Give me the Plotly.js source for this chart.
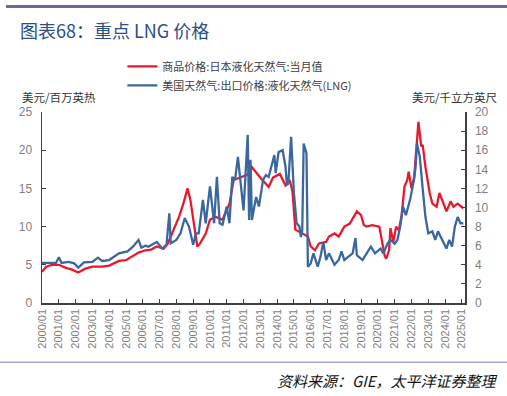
<!DOCTYPE html>
<html>
<head>
<meta charset="utf-8">
<script src="https://cdn.plot.ly/plotly-3.0.1.min.js"></script>
<style>html,body{margin:0;padding:0;background:#fff;}#chart{width:507px;height:396px;}</style>
</head>
<body>
<div id="chart"></div>
<script>
// 商品价格:日本液化天然气:当月值 (美元/百万英热)
const redDates = ['2000-01','2000-04','2000-08','2001-01','2001-06','2001-10','2002-03','2002-08','2003-01','2003-08','2004-01','2004-08','2005-01','2005-06','2005-10','2006-03','2006-07','2006-11','2007-04','2007-07','2007-11','2008-03','2008-06','2008-09','2008-11','2009-02','2009-04','2009-06','2009-10','2010-01','2010-05','2010-10','2011-03','2011-06','2011-11','2012-04','2012-07','2013-01','2013-07','2013-10','2014-03','2014-07','2014-10','2014-12','2015-02','2015-05','2015-08','2015-11','2016-01','2016-04','2016-07','2016-12','2017-02','2017-06','2017-09','2018-01','2018-05','2018-07','2018-10','2019-01','2019-03','2019-05','2019-09','2020-02','2020-04','2020-06','2020-07','2020-09','2020-10','2020-12','2021-02','2021-04','2021-06','2021-08','2021-10','2021-11','2022-01','2022-03','2022-05','2022-06','2022-08','2022-09','2022-11','2023-02','2023-04','2023-07','2023-09','2023-12','2024-02','2024-05','2024-07','2024-10','2025-02'];
const redValues = [4.1,4.75,5.0,5.0,4.6,4.4,4.0,4.5,4.75,4.75,4.9,5.5,5.6,6.1,6.6,6.9,7.0,7.4,7.1,7.8,9.6,11.3,13.0,15.0,13.5,9.6,7.4,7.8,9.1,10.9,11.3,10.9,13.0,16.1,16.5,16.8,17.8,16.4,15.2,16.4,16.9,15.4,16.1,14.6,9.6,9.3,9.1,8.7,7.4,6.9,7.8,8.0,8.7,9.1,8.7,10.0,10.4,11.1,12.0,11.5,10.2,10.0,10.2,10.0,8.2,6.1,5.8,6.9,9.8,8.0,10.0,9.5,11.5,15.2,16.1,17.2,15.0,16.5,21.3,23.7,20.5,20.7,17.8,14.4,13.0,12.6,14.4,13.0,12.0,13.3,12.6,13.0,12.4];

// 美国天然气:出口价格:液化天然气(LNG) (美元/千立方英尺)
const blueDates = ['2000-01','2000-11','2001-01','2001-03','2001-08','2001-12','2002-03','2002-07','2003-01','2003-05','2003-08','2004-01','2004-08','2005-02','2005-06','2005-10','2005-12','2006-03','2006-05','2006-09','2006-11','2007-03','2007-06','2007-08','2007-09','2008-01','2008-04','2008-07','2008-10','2009-01','2009-03','2009-05','2009-08','2009-10','2010-01','2010-04','2010-06','2010-08','2010-10','2011-01','2011-03','2011-05','2011-07','2011-09','2011-11','2012-01','2012-04','2012-05','2012-06','2012-07','2012-10','2012-12','2013-03','2013-05','2013-07','2013-11','2013-12','2014-02','2014-05','2014-07','2014-08','2014-09','2014-11','2015-01','2015-03','2015-05','2015-06','2015-07','2015-08','2015-10','2015-11','2016-01','2016-03','2016-06','2016-08','2016-10','2016-12','2017-02','2017-06','2017-09','2017-11','2018-01','2018-04','2018-07','2018-09','2018-10','2019-02','2019-05','2019-08','2019-11','2020-03','2020-05','2020-08','2020-10','2021-01','2021-03','2021-05','2021-07','2021-09','2021-12','2022-03','2022-04','2022-05','2022-07','2022-08','2022-09','2022-11','2023-01','2023-04','2023-06','2023-08','2023-11','2024-02','2024-04','2024-06','2024-08','2024-10','2024-12','2025-02'];
const blueValues = [4.2,4.2,4.8,4.2,4.3,4.15,3.7,4.25,4.3,4.75,4.4,4.5,5.2,5.4,5.9,6.6,5.8,6.0,5.9,6.25,6.4,5.7,6.1,9.4,6.25,6.6,7.3,8.9,8.0,6.1,7.3,7.3,10.8,8.35,12.2,8.35,13.2,8.35,8.2,10.1,8.35,13.2,12.9,15.3,12.2,9.7,17.6,8.7,15.0,8.7,11.1,10.1,12.9,13.4,13.2,15.5,13.6,15.8,16.0,14.3,12.4,12.5,17.4,11.5,8.35,8.0,6.9,7.6,16.7,15.7,3.8,4.15,5.2,3.8,4.85,6.4,4.5,5.2,4.0,4.5,5.4,4.5,4.85,5.2,6.8,5.0,4.5,5.2,5.9,5.2,5.7,5.2,6.25,6.6,6.2,6.6,8.0,10.1,9.2,10.8,13.0,14.3,16.7,15.3,13.2,12.0,9.0,7.3,7.5,6.6,7.5,6.6,5.7,6.6,5.9,8.0,9.0,8.35,8.35];

const seriesNames = ['商品价格:日本液化天然气:当月值','美国天然气:出口价格:液化天然气(LNG)'];
const titleText = '图表68：重点 LNG 价格';
const leftUnit = '美元/百万英热';
const rightUnit = '美元/千立方英尺';
const sourceText = '资料来源：GIE，太平洋证券整理';

const tickFont = {family:'Liberation Sans, Arial, sans-serif', size:12, color:'#7f7f7f'};
const cjk = 'Noto Sans CJK SC, sans-serif';

const traces = [
  {x: redDates.map(d=>d+'-01'), y: redValues, name: seriesNames[0], type:'scatter', mode:'lines',
   line:{color:'#e8192c', width:2.3}, yaxis:'y'},
  {x: blueDates.map(d=>d+'-01'), y: blueValues, name: seriesNames[1], type:'scatter', mode:'lines',
   line:{color:'#3b67a0', width:2.3}, yaxis:'y2'}
];

const layout = {
  width:507, height:396,
  margin:{l:42, r:42, t:112, b:93},
  paper_bgcolor:'#fff', plot_bgcolor:'#fff',
  showlegend:true,
  legend:{x:0.19, y:1.315, xanchor:'left', yanchor:'top', bgcolor:'rgba(0,0,0,0)',
          font:{family:cjk, size:11, color:'#404040'}, tracegroupgap:0, itemwidth:30},
  xaxis:{type:'date', range:['2000-01-01','2025-03-10'], tickformat:'%Y/%m', dtick:'M12', tick0:'2000-01-01',
         tickangle:-90, tickfont:{family:'Liberation Sans, Arial, sans-serif', size:11, color:'#7f7f7f'},
         showline:true, linecolor:'#404040', linewidth:1.5, ticks:'inside', ticklen:4, tickcolor:'#404040',
         showgrid:false, zeroline:false, fixedrange:true},
  yaxis:{range:[0,25], dtick:5, tickfont:tickFont, showline:true, linecolor:'#404040', linewidth:1.5,
         ticks:'inside', ticklen:4, tickcolor:'#404040', showgrid:false, zeroline:false, ticklabelstandoff:6},
  yaxis2:{range:[0,20], dtick:2, overlaying:'y', side:'right', tickfont:tickFont, showline:true,
          linecolor:'#404040', linewidth:1.5, ticks:'inside', ticklen:4, tickcolor:'#404040',
          showgrid:false, zeroline:false, ticklabelstandoff:6},
  shapes:[
    {type:'line', xref:'paper', yref:'paper', x0:-0.085, x1:1.1, y0:1.553, y1:1.553, line:{color:'#6b6b9b', width:3}},
    {type:'line', xref:'paper', yref:'paper', x0:-0.1, x1:1.1, y0:-0.31, y1:-0.31, line:{color:'#a8a8c8', width:1.5}}
  ],
  annotations:[
    {text:titleText, xref:'paper', yref:'paper', x:-0.057, y:1.43, xanchor:'left', yanchor:'middle', showarrow:false,
     font:{family:cjk, size:18, color:'#2a4f86'}},
    {text:leftUnit, xref:'paper', yref:'paper', x:-0.052, y:1.078, xanchor:'left', yanchor:'middle', showarrow:false,
     font:{family:cjk, size:11.5, color:'#333'}},
    {text:rightUnit, xref:'paper', yref:'paper', x:1.083, y:1.078, xanchor:'right', yanchor:'middle', showarrow:false,
     font:{family:cjk, size:11.5, color:'#333'}},
    {text:'<i>'+sourceText+'</i>', xref:'paper', yref:'paper', x:1.083, y:-0.405, xanchor:'right', yanchor:'middle', showarrow:false,
     font:{family:cjk, size:15, color:'#111'}}
  ]
};

Plotly.newPlot('chart', traces, layout, {staticPlot:true, displayModeBar:false});
</script>
</body>
</html>
